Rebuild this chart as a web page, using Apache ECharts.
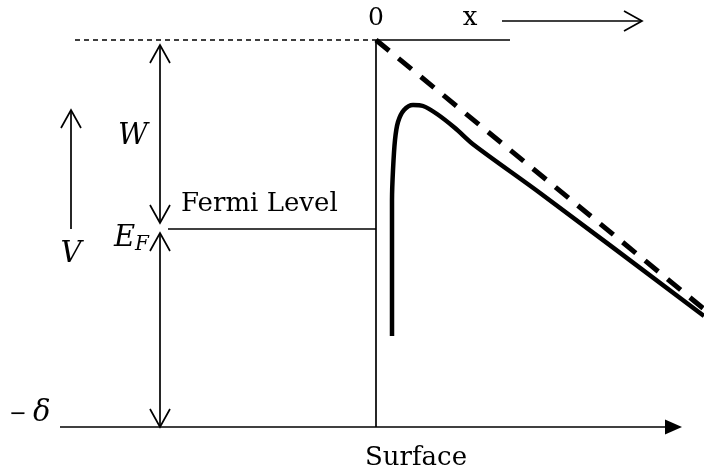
<!DOCTYPE html>
<html><head><meta charset="utf-8">
<script src="https://cdn.jsdelivr.net/npm/echarts@6/dist/echarts.min.js"></script>
<style>html,body{margin:0;padding:0;background:#fff}#c{width:704px;height:474px}</style>
</head><body><div id="c"></div>
<script>
// Diagram values (energy in arbitrary units, vacuum level = 0; x = 0 at the surface)
const vacuumDashed = [[-3.01, 0], [0, 0]];
const vacuumSolid = [[0, 0], [1.34, 0]];
const surfaceLine = [[0, 0], [0, -3.87]];
const fermiLine = [[-2.08, -1.89], [0, -1.89]];
const baseAxis = [[-3.16, -3.87, 3.06, -3.87]];
const appliedField = [[0, 0], [3.28, -2.69]];
const barrier = [
  [0.16, -2.96], [0.16, -2.10], [0.16, -1.60], [0.17, -1.30], [0.19, -1.00],
  [0.22, -0.82], [0.28, -0.70], [0.37, -0.65], [0.47, -0.66], [0.61, -0.74],
  [0.79, -0.88], [0.98, -1.05], [1.64, -1.53], [3.28, -2.76]
];
const doubleArrows = [[-2.16, -0.05, -2.16, -1.83], [-2.16, -1.93, -2.16, -3.87]];
const singleArrows = [[-3.05, -1.89, -3.05, -0.70], [1.26, 0.19, 2.66, 0.19]];
const labelTexts = ['0', 'x', 'Fermi Level', 'Surface', 'W', 'V', 'E', 'F', '−', 'δ'];

const chart = echarts.init(document.getElementById('c'), null, {renderer: 'canvas'});
const black = '#000';
const serif = '"DejaVu Serif", serif';
const thin = 1.7;

function arrowRender(startHead, endHead, filled) {
  return function (params, api) {
    const p1 = api.coord([api.value(0), api.value(1)]);
    const p2 = api.coord([api.value(2), api.value(3)]);
    const dx = p2[0] - p1[0], dy = p2[1] - p1[1];
    const L = Math.hypot(dx, dy), ux = dx / L, uy = dy / L;
    const children = [];
    const head = (tip, sx, sy) => {
      const d = filled ? 17 : 18, w = filled ? 7.5 : 10;
      const a = [tip[0] - sx * d - sy * w, tip[1] - sy * d + sx * w];
      const b = [tip[0] - sx * d + sy * w, tip[1] - sy * d - sx * w];
      if (filled) {
        return {type: 'polygon', shape: {points: [a, tip, b]}, style: {fill: black, stroke: null}};
      }
      return {type: 'polyline', shape: {points: [a, tip, b]}, style: {stroke: black, fill: 'none', lineWidth: thin}};
    };
    let e = p2;
    if (filled) e = [p2[0] - ux * 16, p2[1] - uy * 16];
    children.push({type: 'line', shape: {x1: p1[0], y1: p1[1], x2: e[0], y2: e[1]}, style: {stroke: black, lineWidth: thin}});
    if (endHead) children.push(head(p2, ux, uy));
    if (startHead) children.push(head(p1, -ux, -uy));
    return {type: 'group', children};
  };
}

function lineSeries(data, style, extra) {
  return Object.assign({type: 'line', data, symbol: 'none', silent: true, animation: false,
    lineStyle: Object.assign({color: black}, style)}, extra || {});
}

function txt(i, x, y, size, opts) {
  return {type: 'text', x, y, silent: true, style: Object.assign({
    text: labelTexts[i], fontSize: size, fontFamily: serif, fill: black,
    align: 'left', verticalAlign: 'middle'}, opts || {})};
}

chart.setOption({
  animation: false,
  grid: {left: 0, right: 0, top: 0, bottom: 0},
  xAxis: {type: 'value', min: -3.76, max: 3.28, show: false},
  yAxis: {type: 'value', min: -4.34, max: 0.40, show: false},
  series: [
    lineSeries(vacuumDashed, {width: thin, type: [5, 4]}),
    lineSeries(vacuumSolid, {width: thin}),
    lineSeries(surfaceLine, {width: thin}),
    lineSeries(fermiLine, {width: thin}),
    lineSeries(appliedField, {width: 5, type: [17, 12]}),
    lineSeries(barrier, {width: 4.5}, {smooth: 0.3}),
    {type: 'custom', renderItem: arrowRender(true, true, false), data: doubleArrows,
      encode: {x: [0, 2], y: [1, 3]}, clip: false, silent: true},
    {type: 'custom', renderItem: arrowRender(false, true, false), data: singleArrows,
      encode: {x: [0, 2], y: [1, 3]}, clip: false, silent: true},
    {type: 'custom', renderItem: arrowRender(false, true, true), data: baseAxis,
      encode: {x: [0, 2], y: [1, 3]}, clip: false, silent: true}
  ],
  graphic: [
    txt(0, 376, 18, 25, {align: 'center'}),
    txt(1, 470, 18, 26, {align: 'center'}),
    txt(2, 181, 204, 26),
    txt(3, 365, 458, 26),
    txt(4, 133, 136, 29, {align: 'center', fontStyle: 'italic'}),
    txt(5, 71, 254, 29, {align: 'center', fontStyle: 'italic'}),
    txt(6, 114, 238, 29, {fontStyle: 'italic'}),
    txt(7, 135, 245, 20, {fontStyle: 'italic'}),
    txt(8, 18, 415, 21, {align: 'center', fontFamily: '"DejaVu Sans", sans-serif'}),
    txt(9, 33, 413, 29, {fontStyle: 'italic'})
  ]
});
</script></body></html>
